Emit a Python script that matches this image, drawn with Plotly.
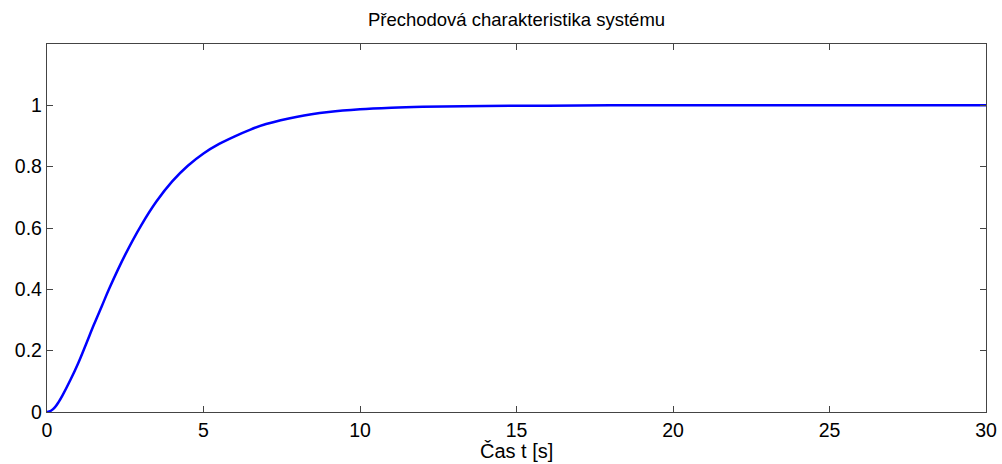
import plotly.graph_objects as go

t_values = [0, 0.125, 0.25, 0.375, 0.5, 0.75, 1, 1.25, 1.5, 1.75, 2, 2.5, 3, 3.5, 4, 4.5, 5, 5.5, 6, 6.5, 7, 8, 9, 10, 11, 12, 14, 16, 18, 20, 25, 30]
y_values = [0, 0.004, 0.015, 0.033, 0.055, 0.105, 0.16, 0.222, 0.285, 0.345, 0.405, 0.513, 0.607, 0.687, 0.752, 0.803, 0.843, 0.874, 0.899, 0.921, 0.939, 0.963, 0.978, 0.987, 0.992, 0.995, 0.998, 0.999, 1.0, 1.0, 1.0, 1.0]
x_ticks = [0, 5, 10, 15, 20, 25, 30]
y_ticks = [0, 0.2, 0.4, 0.6, 0.8, 1]
y_tick_labels = ["0", "0.2", "0.4", "0.6", "0.8", "1"]

FONT = "Liberation Sans, Arial"
W, H = 1002, 464

fig = go.Figure()
fig.add_trace(go.Scatter(x=t_values, y=y_values, mode="lines",
                         line=dict(color="#0000ff", width=2.5, shape="spline", smoothing=1.0),
                         showlegend=False))

axis_common = dict(showgrid=False, zeroline=False, showline=True, linecolor="#444444", linewidth=1.3,
                   mirror="ticks", ticks="inside", ticklen=6, tickcolor="#444444", tickwidth=1,
                   automargin=False,
                   tickfont=dict(family=FONT, size=19.5, color="#000000"))

fig.update_layout(
    width=W, height=H,
    margin=dict(l=47, r=16, t=44, b=52, autoexpand=False),
    paper_bgcolor="white", plot_bgcolor="white",
    title=dict(text="Přechodová charakteristika systému", x=0.5, xanchor="center", xref="paper",
               y=1 - 20 / H, yanchor="middle",
               font=dict(family=FONT, size=18.5, color="#000000")),
    xaxis=dict(range=[0, 30], tickvals=x_ticks, **axis_common),
    yaxis=dict(range=[0, 1.2], tickvals=y_ticks, ticktext=y_tick_labels, **axis_common),
    annotations=[dict(text="Čas t [s]", x=0.5, xref="paper", y=0, yref="paper",
                      xanchor="center", yanchor="middle", yshift=-39, showarrow=False,
                      font=dict(family=FONT, size=20, color="#000000"))],
)

fig.write_html("out.html", config={"displayModeBar": False},
               post_script="document.body.style.margin='0';document.body.style.overflow='hidden';")
